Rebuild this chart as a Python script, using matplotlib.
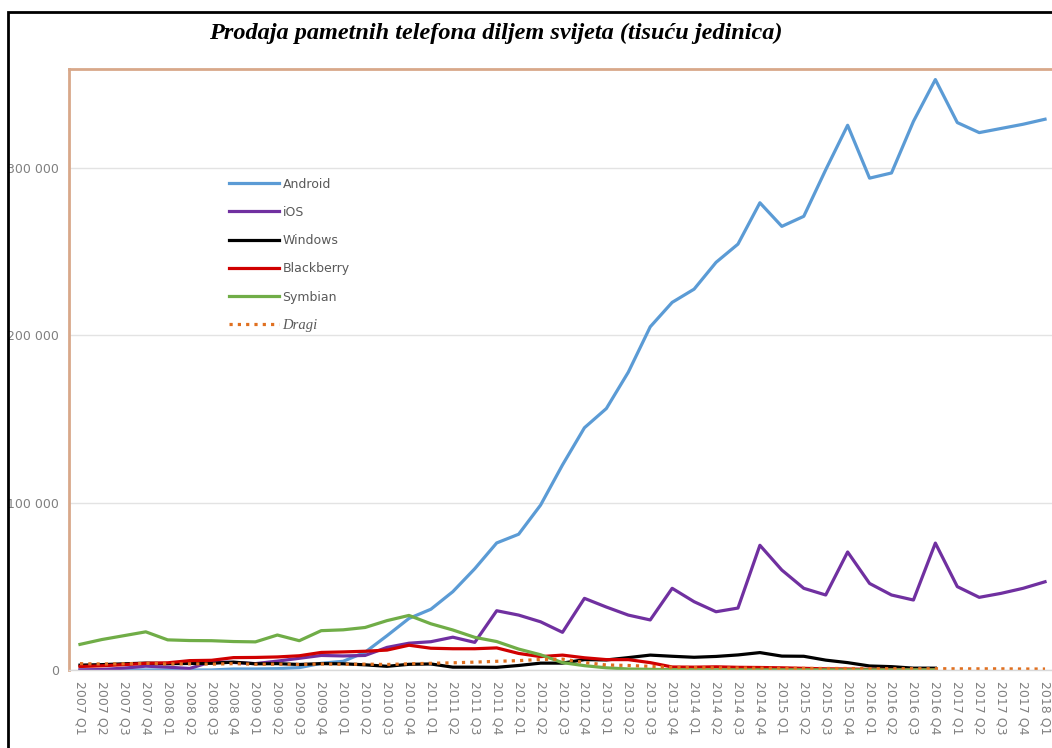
import numpy as np
import matplotlib
matplotlib.use("Agg")
import matplotlib.pyplot as plt
from matplotlib.patches import Rectangle

# quarters 2007 Q1 .. 2018 Q1
quarters = [f"{y} Q{q}" for y in range(2007, 2018) for q in range(1, 5)] + ["2018 Q1"]

# thousands of units
android = [0, 0, 0, 0, 0, 0, 0, 600,
           600, 800, 1400, 4000,
           5200, 10600, 20500, 30800,
           36300, 46800, 60500, 75900,
           81100, 98500, 122500, 144700,
           156200, 177900, 205000, 219600,
           227500, 243500, 254400, 279100,
           265000, 271000, 298800, 325400,
           293800, 296900, 327700, 352700,
           327000, 321000, 323500, 326000,
           329000]
ios = [0, 300, 1100, 2300,
       1700, 900, 5000, 4500,
       3800, 5300, 7000, 8700,
       8400, 8700, 13500, 16000,
       16900, 19600, 16500, 35400,
       32800, 28800, 22500, 42800,
       37600, 32800, 29900, 48800,
       40800, 34800, 37000, 74500,
       59700, 48800, 44800, 70500,
       51700, 44800, 41800, 75800,
       49800, 43400, 45800, 48800,
       52700]
windows = [2900, 3200, 3700, 4100,
           3800, 3900, 4000, 4700,
           3700, 3800, 3300, 3800,
           3700, 3100, 2200, 3400,
           3600, 1700, 1700, 1600,
           2700, 4100, 4100, 6200,
           6000, 7400, 8900, 8200,
           7600, 8100, 9000, 10400,
           8300, 8200, 5900, 4400,
           2400, 2000, 1100, 1100]
blackberry = [2100, 2500, 3200, 4000,
              4300, 5600, 5800, 7400,
              7500, 7800, 8500, 10500,
              10800, 11200, 11900, 14800,
              13000, 12700, 12700, 13200,
              9900, 8000, 8900, 7300,
              6200, 6200, 4400, 1800,
              1700, 1900, 1600, 1500,
              1300, 1000, 700, 600,
              400, 300, 200, 200]
symbian = [15300, 18200, 20500, 22800,
           18000, 17600, 17500, 17000,
           16800, 20900, 17500, 23500,
           24000, 25400, 29500, 32600,
           27600, 23900, 19500, 17000,
           12500, 9100, 4400, 2600,
           1300, 600, 400, 200,
           100, 100, 100, 100,
           100, 100, 100, 100,
           100, 100, 100, 100]
others = [3800, 3600, 3700, 4000,
          3600, 3700, 3500, 3800,
          3400, 3500, 3300, 3600,
          3400, 3500, 3300, 3700,
          4000, 4300, 4700, 5200,
          5600, 6300, 6500, 4500,
          3000, 2700, 2200, 1600,
          1400, 1300, 1200, 1100,
          1000, 1000, 900, 900,
          800, 800, 800, 800,
          700, 700, 700, 600,
          600]

x = np.arange(len(quarters))

fig = plt.figure(figsize=(10.52, 7.48), dpi=100)
ax = fig.add_axes([69 / 1052, 78 / 748, 987 / 1052, 601 / 748])

lw = 2.3
ax.plot(x[:len(android)], android, color="#5b9bd5", lw=lw, label="Android", solid_joinstyle="round")
ax.plot(x[:len(ios)], ios, color="#7030a0", lw=lw, label="iOS", solid_joinstyle="round")
ax.plot(x[:len(windows)], windows, color="#000000", lw=lw, label="Windows", solid_joinstyle="round")
ax.plot(x[:len(blackberry)], blackberry, color="#d00000", lw=lw, label="Blackberry", solid_joinstyle="round")
ax.plot(x[:len(symbian)], symbian, color="#70ad47", lw=lw, label="Symbian", solid_joinstyle="round")
ax.plot(x[:len(others)], others, color="#e07020", lw=lw, ls=(0, (1, 1.6)), label="Dragi")

ax.set_xlim(-0.5, len(quarters) - 0.5)
ax.set_ylim(0, 359000)
ax.set_yticks([0, 100000, 200000, 300000])
ax.set_yticklabels(["0", "100 000", "200 000", "300 000"])
ax.set_xticks(x)
ax.set_xticklabels(quarters, rotation=270, va="top", ha="center")
ax.tick_params(axis="both", length=0, colors="#808080", labelsize=9)
ax.tick_params(axis="x", pad=8)
ax.tick_params(axis="y", pad=7)
ax.grid(axis="y", color="#e3e3e3", lw=1)
ax.set_axisbelow(True)

for s in ["left", "top", "right"]:
    ax.spines[s].set_color("#d8a88a")
    ax.spines[s].set_linewidth(2)
ax.spines["bottom"].set_color("#d9d9d9")
ax.spines["bottom"].set_linewidth(1)

leg = ax.legend(loc="upper left", bbox_to_anchor=(0.151, 0.838), frameon=False,
                handlelength=4.0, handletextpad=0.25, labelspacing=1.22, fontsize=9)
for t in leg.get_texts():
    t.set_color("#595959")
leg.get_texts()[-1].set_fontfamily("Liberation Serif")
leg.get_texts()[-1].set_fontstyle("italic")
leg.get_texts()[-1].set_fontsize(10.5)

fig.text(0.471, 0.955, "Prodaja pametnih telefona diljem svijeta (tisuću jedinica)",
         ha="center", va="center", fontsize=17.5, fontweight="bold", fontstyle="italic",
         family="Liberation Serif")

# outer frame of the cropped screenshot
fig.patches.append(Rectangle((8 / 1052, -0.1), 1.2, 1.1 - 12 / 748, transform=fig.transFigure,
                             fill=False, edgecolor="black", lw=2, clip_on=False))

fig.savefig("out.png", dpi=100)
